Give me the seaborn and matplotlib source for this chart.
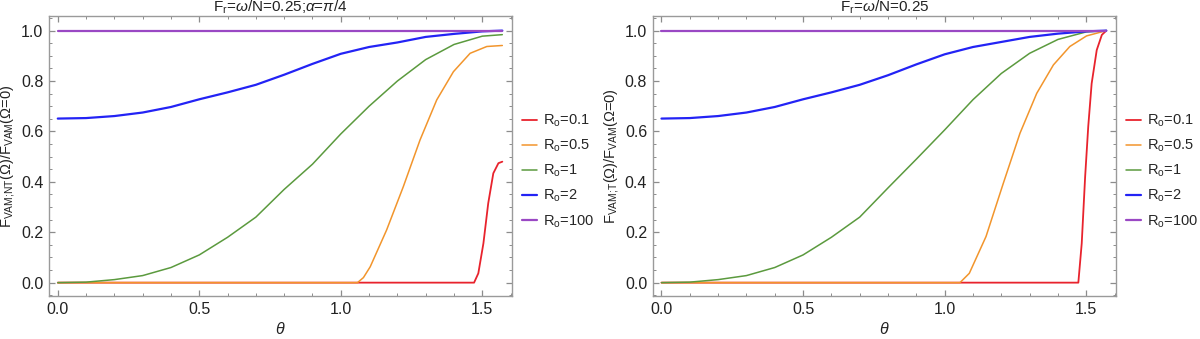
import numpy as np
import pandas as pd
import matplotlib
matplotlib.use("Agg")
import matplotlib.pyplot as plt
from matplotlib.ticker import MultipleLocator
import seaborn as sns

# --- Data ---
LABELS = ["R$_\\mathregular{o}$=0.1", "R$_\\mathregular{o}$=0.5", "R$_\\mathregular{o}$=1",
          "R$_\\mathregular{o}$=2", "R$_\\mathregular{o}$=100"]
COLORS = ["#e8232d", "#f2952c", "#5b9a3e", "#2323f5", "#9a48c4"]
WIDTHS = [1.3, 1.1, 1.1, 1.6, 1.6]

# left panel (non-traditional, alpha = pi/4)
nt_red_t = [0, 1.471, 1.486, 1.504, 1.521, 1.539, 1.557, 1.5708]
nt_red_v = [0, 0, 0.037, 0.156, 0.315, 0.434, 0.474, 0.48]
nt_orange_t = [0, 1.059, 1.08, 1.104, 1.162, 1.221, 1.280, 1.339, 1.398, 1.457, 1.516, 1.5708]
nt_orange_v = [0, 0, 0.02, 0.063, 0.209, 0.381, 0.566, 0.725, 0.837, 0.910, 0.937, 0.941]
nt_green_t = [0, 0.1, 0.2, 0.3, 0.4, 0.5, 0.6, 0.7, 0.8, 0.9, 1.0, 1.1, 1.2, 1.3, 1.4, 1.5, 1.5708]
nt_green_v = [0, 0.002, 0.012, 0.028, 0.06, 0.11, 0.18, 0.26, 0.37, 0.47, 0.59, 0.70, 0.80,
              0.885, 0.945, 0.978, 0.984]
nt_blue_t = [0, 0.1, 0.2, 0.3, 0.4, 0.5, 0.6, 0.7, 0.8, 0.9, 1.0, 1.1, 1.2, 1.3, 1.4, 1.5, 1.5708]
nt_blue_v = [0.651, 0.653, 0.661, 0.675, 0.697, 0.7275, 0.755, 0.785, 0.825, 0.868, 0.908,
             0.935, 0.953, 0.975, 0.987, 0.997, 1.0]
nt_purple_t = [0, 1.5708]
nt_purple_v = [1.0, 1.0]

# right panel (traditional)
t_red_t = [0, 1.472, 1.484, 1.496, 1.507, 1.519, 1.537, 1.555, 1.5708]
t_red_v = [0, 0, 0.156, 0.42, 0.62, 0.79, 0.923, 0.983, 1.0]
t_orange_t = [0, 1.054, 1.087, 1.146, 1.207, 1.266, 1.325, 1.384, 1.442, 1.501, 1.5708]
t_orange_v = [0, 0, 0.037, 0.183, 0.394, 0.593, 0.751, 0.864, 0.937, 0.979, 1.0]
t_green_t = [0, 0.1, 0.2, 0.3, 0.4, 0.5, 0.6, 0.7, 0.8, 0.9, 1.0, 1.1, 1.2, 1.3, 1.4, 1.5, 1.5708]
t_green_v = [0, 0.002, 0.012, 0.028, 0.06, 0.11, 0.18, 0.26, 0.376, 0.49, 0.606, 0.726, 0.83,
             0.91, 0.965, 0.995, 1.0]
t_blue_t = nt_blue_t
t_blue_v = [0.651, 0.653, 0.661, 0.675, 0.697, 0.7275, 0.755, 0.785, 0.823, 0.866, 0.906,
            0.935, 0.955, 0.975, 0.988, 0.997, 1.0]
t_purple_t = [0, 1.5708]
t_purple_v = [1.0, 1.0]

PANELS = [
    ("F$_\\mathregular{r}$=$\\omega$/N=0.25;$\\alpha$=$\\pi$/4",
     "F$_\\mathregular{VAM;\\!NT}$(\u03a9)/F$_\\mathregular{VAM}$(\u03a9=0)",
     [(nt_red_t, nt_red_v), (nt_orange_t, nt_orange_v), (nt_green_t, nt_green_v),
      (nt_blue_t, nt_blue_v), (nt_purple_t, nt_purple_v)]),
    ("F$_\\mathregular{r}$=$\\omega$/N=0.25",
     "F$_\\mathregular{VAM;\\!T}$(\u03a9)/F$_\\mathregular{VAM}$(\u03a9=0)",
     [(t_red_t, t_red_v), (t_orange_t, t_orange_v), (t_green_t, t_green_v),
      (t_blue_t, t_blue_v), (t_purple_t, t_purple_v)]),
]

sns.set_theme(style="ticks")
plt.rcParams['font.family'] = ['Liberation Sans', 'DejaVu Sans']
plt.rcParams['mathtext.fontset'] = 'custom'
plt.rcParams['mathtext.rm'] = 'Liberation Sans'
plt.rcParams['mathtext.it'] = 'Liberation Sans:italic'

FS = 11.5
fig = plt.figure(figsize=(12, 3.39), dpi=100)
W, H = 1200, 339
frames = [(49, 512), (652.7, 1116)]

for (x0, x1), (title, ylab, series) in zip(frames, PANELS):
    ax = fig.add_axes([x0 / W, 1 - 296 / H, (x1 - x0) / W, 280 / H])
    for (tt, vv), lab, col, lw in zip(series, LABELS, COLORS, WIDTHS):
        df = pd.DataFrame({"theta": tt, "value": vv})
        sns.lineplot(data=df, x="theta", y="value", ax=ax, color=col, lw=lw,
                     label=lab, sort=False, estimator=None)
    ax.set_xlim(-0.031, 1.605)
    ax.set_ylim(-0.053, 1.058)
    ax.xaxis.set_major_locator(MultipleLocator(0.5))
    ax.xaxis.set_minor_locator(MultipleLocator(0.1))
    ax.yaxis.set_major_locator(MultipleLocator(0.2))
    ax.yaxis.set_minor_locator(MultipleLocator(0.05))
    ax.tick_params(which="both", direction="in", top=True, right=True, color="#8c8c8c",
                   labelsize=FS, labelcolor="#222222", pad=4)
    ax.tick_params(which="major", length=4, width=0.9)
    ax.tick_params(which="minor", length=2.5, width=0.7)
    for sp in ax.spines.values():
        sp.set_color("#9a9a9a")
        sp.set_linewidth(1.0)
    ax.set_title(title, fontsize=11, pad=0, color="#222222")
    ax.set_xlabel("$\\theta$", fontsize=FS, labelpad=3, color="#222222")
    ax.set_ylabel(ylab, fontsize=10.5, labelpad=3, color="#222222")
    ax.legend(loc="center left", bbox_to_anchor=(1.022, 0.446), frameon=False,
              fontsize=10.5, handlelength=1.0, handletextpad=0.4, labelspacing=0.6,
              borderaxespad=0, borderpad=0)

fig.savefig("out.png", dpi=100)
